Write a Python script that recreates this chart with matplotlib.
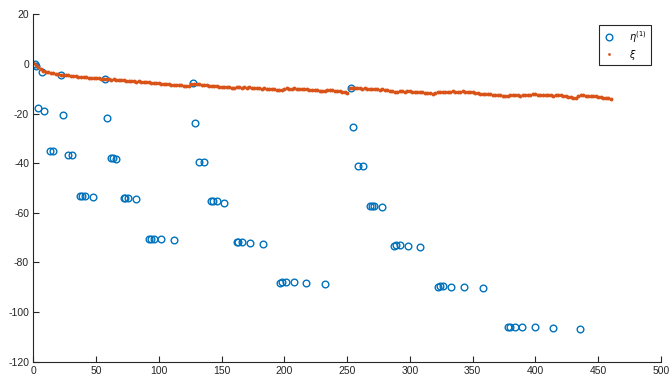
import numpy as np
import matplotlib.pyplot as plt

plt.rcParams['font.family'] = ['Liberation Sans', 'DejaVu Sans']
plt.rcParams['axes.unicode_minus'] = False

# eta^(1): clusters of circles
eta_x = [1.4, 2.2, 7.2, 21.8, 57.4, 127.0, 252.8,
         3.7, 8.5, 23.9, 58.7, 128.6, 254.4,
         13.3, 15.9, 27.4, 31.1, 61.9, 63.7, 66.1, 132.2, 135.7, 258.4, 262.4,
         37.3, 38.9, 41.3, 47.8, 72.3, 73.3, 75.7, 82.0,
         141.6, 143.4, 146.1, 152.3, 268.2, 269.6, 271.6, 277.8,
         92.2, 93.5, 95.9, 101.7, 111.8, 162.1, 163.4, 166.5, 172.7, 182.6,
         287.6, 288.9, 292.1, 298.5, 308.3,
         196.5, 197.9, 201.3, 207.4, 217.4, 232.1,
         322.4, 324.0, 326.6, 332.9, 343.3, 358.5,
         378.4, 380.0, 383.5, 389.3, 399.4, 414.0, 435.3]
eta_y = [0.0, -0.9, -3.1, -4.4, -6.1, -7.8, -9.5,
         -17.7, -19.0, -20.6, -21.9, -23.7, -25.4,
         -35.1, -35.1, -36.5, -36.5, -38.0, -38.0, -38.3, -39.5, -39.5, -41.1, -41.1,
         -53.1, -53.1, -53.1, -53.5, -54.1, -54.1, -54.1, -54.6,
         -55.4, -55.4, -55.4, -55.9, -57.1, -57.1, -57.1, -57.5,
         -70.4, -70.4, -70.4, -70.4, -70.8, -71.6, -71.6, -71.6, -72.0, -72.5,
         -73.3, -73.1, -73.1, -73.5, -73.9,
         -88.4, -87.95, -87.95, -87.95, -88.4, -88.8,
         -89.7, -89.3, -89.3, -89.7, -89.7, -90.1,
         -106.0, -106.0, -106.0, -106.0, -106.0, -106.4, -106.8]

# xi: dense series, read every 2 units of x
xi_x = np.arange(0, 461, 2)
xi_y = [0.3, -0.5, -1.3, -2.1, -2.7, -3.1, -3.4, -3.6, -3.8, -4.0,
        -4.1, -4.3, -4.4, -4.5, -4.6, -4.8, -4.9, -5.0, -5.1, -5.3,
        -5.3, -5.4, -5.5, -5.6, -5.7, -5.8, -5.8, -5.9, -6.0, -6.1,
        -6.1, -6.3, -6.2, -6.4, -6.5, -6.4, -6.6, -6.8, -6.7, -6.9,
        -7.0, -7.1, -7.0, -7.2, -7.3, -7.4, -7.3, -7.5, -7.6, -7.7,
        -7.8, -8.0, -8.1, -8.0, -8.2, -8.3, -8.4, -8.3, -8.5, -8.6,
        -8.7, -8.9, -9.0, -8.1, -7.9, -8.0, -8.2, -8.3, -8.4, -8.6,
        -8.8, -8.9, -8.8, -9.0, -9.1, -9.2, -9.1, -9.3, -9.4, -9.5,
        -9.5, -9.4, -9.4, -9.5, -9.4, -9.5, -9.4, -9.6, -9.7, -9.8,
        -9.9, -10.0, -9.9, -10.1, -10.2, -10.3, -10.2, -10.4, -10.5, -10.4,
        -10.0, -9.9, -10.0, -10.1, -9.9, -10.0, -10.1, -10.0, -10.2, -10.3,
        -10.4, -10.6, -10.7, -10.6, -10.8, -10.9, -10.8, -10.6, -10.5, -10.6,
        -10.8, -11.0, -11.1, -11.3, -11.5, -11.7, -9.6, -9.7, -9.8, -9.9,
        -9.8, -10.0, -9.9, -10.1, -10.0, -10.2, -10.1, -10.3, -10.4, -10.3,
        -10.5, -10.7, -10.8, -11.0, -11.2, -11.3, -11.1, -11.0, -11.2, -11.1,
        -11.0, -11.2, -11.3, -11.4, -11.3, -11.5, -11.6, -11.8, -11.9, -12.1,
        -11.6, -11.4, -11.3, -11.2, -11.4, -11.3, -11.2, -11.1, -11.2, -11.3,
        -11.2, -11.1, -11.3, -11.2, -11.3, -11.5, -11.7, -11.9, -12.1, -12.2,
        -12.0, -12.2, -12.3, -12.5, -12.4, -12.6, -12.7, -12.9, -13.0, -12.8,
        -12.6, -12.5, -12.7, -12.6, -12.8, -12.7, -12.6, -12.5, -12.4, -12.3,
        -12.3, -12.5, -12.4, -12.6, -12.5, -12.7, -12.6, -12.8, -12.4, -12.5,
        -12.7, -12.9, -13.1, -13.3, -13.4, -13.6, -13.7, -12.9, -12.6, -12.7,
        -12.8, -12.9, -13.0, -12.9, -13.1, -13.2, -13.4, -13.6, -13.8, -13.9,
        -14.2]

fig = plt.figure(figsize=(6.72, 3.77), dpi=100)
ax = fig.add_axes([33.3 / 672, 1 - 361.7 / 377, (661 - 33.3) / 672, (361.7 - 14.3) / 377])

ax.plot(eta_x, eta_y, 'o', ms=4.8, mfc='none', mec='#0072BD', mew=1.0, label=r'$\eta^{(1)}$')
ax.plot(xi_x, xi_y, 'o', ms=2.8, mew=0, color='#D95319', label=r'$\xi$')

ax.set_xlim(0, 500)
ax.set_ylim(-120, 20)
ax.set_xticks(np.arange(0, 501, 50))
ax.set_yticks(np.arange(-120, 21, 20))
ax.spines['top'].set_visible(False)
ax.spines['right'].set_visible(False)
for s in ['left', 'bottom']:
    ax.spines[s].set_color('#262626')
    ax.spines[s].set_linewidth(0.8)
ax.tick_params(direction='in', length=4, width=0.8, colors='#262626', labelsize=7.5, pad=3)

leg = ax.legend(loc='upper right', bbox_to_anchor=(650.7 / 672, 1 - 25 / 377),
                bbox_transform=fig.transFigure, borderaxespad=0, fontsize=7,
                fancybox=False, framealpha=1, edgecolor='#262626',
                handlelength=1.2, handletextpad=1.5, borderpad=0.4,
                labelspacing=0.3)
leg.get_frame().set_linewidth(0.8)
# keep the legend dot small like the reference
leg.legend_handles[1].set_markersize(2.0)

plt.savefig('out.png', dpi=100)
